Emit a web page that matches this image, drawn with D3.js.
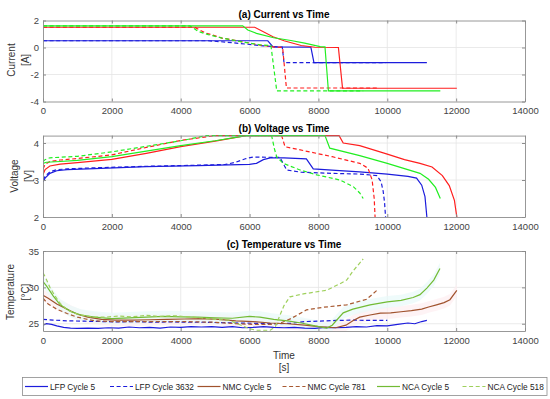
<!DOCTYPE html>
<html>
<head>
<meta charset="utf-8">
<script src="https://cdn.jsdelivr.net/npm/d3@7"></script>
<style>
  body { margin: 0; background: #fff; }
  text { font-family: "Liberation Sans", Arial, sans-serif; }
</style>
</head>
<body>
<div class="chart"></div>
<script>
// x ticks shared by the three panels
var timeTicks = [0, 2000, 4000, 6000, 8000, 10000, 12000, 14000];

// ---- (a) current [A] ----
var lfp5I = [[0,0.5],[6530,0.5],[6680,0.05],[7780,0.03],[7870,-1.12],[11150,-1.12]];
var lfp3632I = [[0,0.5],[4800,0.5],[5300,0.4],[5900,0.25],[6400,0.12],[6800,0.05],[6950,0.03],[7000,-1.12],[9950,-1.12]];
var nmc5I = [[0,1.5],[6150,1.5],[6680,0.8],[7000,0.5],[7500,0.15],[7900,0.02],[8580,0.0],[8700,-3.02],[12020,-3.02]];
var nmc781I = [[0,1.5],[4400,1.5],[4700,1.1],[5200,0.7],[5800,0.42],[6300,0.18],[6700,0.04],[6960,0.0],[7070,-3.0],[9700,-3.0]];
var nca5I = [[0,1.6],[5800,1.6],[5950,1.3],[6200,1.05],[6700,0.72],[7200,0.52],[7600,0.32],[8050,0.06],[8190,0.05],[8290,-3.22],[11540,-3.22]];
var nca518I = [[0,1.6],[4270,1.6],[4500,1.2],[4800,0.95],[5200,0.7],[5700,0.45],[6300,0.2],[6620,0.15],[6790,-3.22],[9300,-3.22]];

// ---- (b) voltage [V] ----
var lfp5V = [[0,2.95],[60,3.05],[200,3.18],[400,3.25],[700,3.28],[1500,3.31],[3000,3.36],[4500,3.39],[6000,3.42],[6200,3.45],[6400,3.55],[6600,3.6],[7000,3.6],[7650,3.57],[7850,3.3],[8500,3.26],[9200,3.22],[10000,3.16],[10600,3.1],[10850,3.05],[11000,2.86],[11095,2.55],[11150,2.0]];
var lfp3632V = [[0,3.0],[60,3.1],[200,3.22],[400,3.28],[700,3.3],[1500,3.33],[3000,3.37],[4500,3.4],[5300,3.42],[5600,3.48],[5900,3.58],[6100,3.62],[6880,3.61],[7080,3.27],[7500,3.21],[8400,3.18],[9200,3.16],[9700,3.12],[9820,2.95],[9880,2.7],[9920,2.4],[9950,2.0]];
var nmc5V = [[0,3.15],[60,3.28],[200,3.38],[500,3.43],[1000,3.47],[2000,3.56],[3000,3.72],[4000,3.9],[5000,4.05],[5900,4.2],[8600,4.2],[8720,4.0],[9200,3.93],[10000,3.7],[10500,3.55],[10950,3.45],[11300,3.35],[11600,3.12],[11800,2.85],[11950,2.45],[12020,2.0]];
var nmc781V = [[0,3.3],[60,3.42],[200,3.5],[500,3.54],[1000,3.58],[2000,3.68],[3000,3.88],[4000,4.07],[5000,4.2],[6930,4.2],[7030,3.9],[8400,3.63],[9200,3.45],[9440,3.32],[9560,3.0],[9620,2.5],[9645,2.0]];
var nca5V = [[0,3.45],[100,3.48],[500,3.5],[1000,3.53],[2000,3.63],[3000,3.78],[4000,3.93],[5000,4.06],[5900,4.2],[8190,4.2],[8330,3.86],[9200,3.66],[10000,3.45],[10950,3.18],[11200,3.02],[11400,2.8],[11540,2.5]];
var nca518V = [[0,3.5],[60,3.55],[200,3.6],[1000,3.64],[2000,3.76],[3000,3.91],[4000,4.06],[4750,4.2],[6640,4.2],[6720,3.85],[6790,3.62],[6980,3.45],[7465,3.27],[7950,3.14],[8626,3.0],[9013,2.82],[9200,2.65],[9300,2.5]];

// ---- (c) temperature [°C] ----
var lfp5T = [[0,24.8],[100,25.0],[250,24.9],[400,24.7],[600,24.5],[800,24.4],[1000,24.35],[1300,24.4],[1600,24.35],[1900,24.45],[2200,24.4],[2500,24.55],[2800,24.45],[3100,24.5],[3400,24.4],[3700,24.55],[4000,24.5],[4300,24.6],[4600,24.55],[4900,24.6],[5200,24.5],[5500,24.6],[5800,24.45],[6100,24.5],[6400,24.6],[6700,24.5],[7000,24.45],[7300,24.5],[7600,24.4],[7900,24.35],[8200,24.5],[8500,24.45],[8800,24.5],[9100,24.6],[9400,24.55],[9700,24.75],[10000,24.7],[10300,24.9],[10600,25.1],[10800,25.0],[11000,25.3],[11150,25.45]];
var lfp3632T = [[0,25.6],[300,25.5],[700,25.4],[1200,25.35],[1700,25.3],[2200,25.25],[2700,25.3],[3200,25.2],[3700,25.25],[4200,25.2],[4700,25.2],[5200,25.15],[5700,25.1],[6200,25.05],[6700,25.0],[7200,25.05],[7600,25.3],[8000,25.35],[8500,25.45],[9000,25.5],[9500,25.45],[10000,25.45]];
var nmc5T = [[0,28.9],[150,28.5],[400,27.7],[700,27.0],[1000,26.3],[1300,25.9],[1700,25.6],[2100,25.5],[2600,25.5],[3100,25.55],[3600,25.6],[4100,25.65],[4600,25.7],[5100,25.6],[5600,25.4],[6100,25.3],[6600,25.1],[7100,25.0],[7600,24.8],[8000,24.6],[8500,24.45],[8800,24.8],[9000,25.4],[9200,25.9],[9500,26.2],[9800,26.45],[10100,26.5],[10400,26.65],[10700,26.8],[11000,27.0],[11200,27.3],[11430,27.6],[11650,27.9],[11820,28.3],[12020,29.6]];
var nmc781T = [[0,28.5],[150,27.7],[400,27.0],[700,26.4],[1000,25.9],[1500,25.4],[2000,25.3],[3000,25.3],[4000,25.3],[5000,25.2],[5600,25.0],[6200,24.9],[6600,24.9],[6900,25.1],[7200,25.7],[7650,26.9],[8140,27.26],[8820,27.6],[9400,28.36],[9700,29.6]];
var nca5T = [[0,30.8],[100,30.2],[300,28.8],[500,27.6],[800,26.7],[1100,26.2],[1500,25.9],[2000,25.7],[2500,25.8],[3000,25.9],[3500,26.0],[4000,25.95],[4500,25.9],[5000,25.8],[5500,25.75],[6000,26.0],[6300,25.9],[6700,25.6],[7100,25.4],[7500,25.1],[7900,24.7],[8240,24.4],[8400,24.8],[8720,26.5],[9000,27.0],[9500,27.6],[10000,28.0],[10400,28.2],[10750,28.6],[10950,29.0],[11150,29.9],[11350,31.0],[11530,32.6]];
var nca518T = [[0,32.0],[80,31.3],[200,30.0],[350,28.8],[500,27.8],[700,26.9],[1000,26.3],[1400,25.95],[1800,25.9],[2200,26.05],[2600,25.95],[3000,26.15],[3400,26.0],[3800,26.1],[4200,25.95],[4600,25.8],[5000,25.6],[5400,25.5],[5700,24.9],[6000,24.3],[6200,24.1],[6600,24.1],[6750,24.6],[6850,25.8],[7000,27.5],[7170,28.7],[7560,29.1],[8240,29.6],[8626,30.5],[8820,31.0],[9013,32.3],[9300,33.9]];

var seriesNames = ["LFP Cycle 5", "LFP Cycle 3632", "NMC Cycle 5", "NMC Cycle 781", "NCA Cycle 5", "NCA Cycle 518"];

var W = 550, H = 399;
var left = 43, right = 525;
var dash = "4,2.6";

var colAB = ["#1c1cdc", "#1c1cdc", "#ff1e1e", "#ff1e1e", "#22ee22", "#22ee22"];
var colC = ["#1c1cdc", "#1c1cdc", "#a0522d", "#a85a32", "#72bb34", "#9fd05c"];
var bandC = [null, null, "#fdeef1", null, "#e8fafa", null];
var dashes = [null, dash, null, dash, null, dash];

var svg = d3.select(".chart")
            .append("svg")
            .attr("width", W)
            .attr("height", H);
svg.append("rect").attr("width", W).attr("height", H).attr("fill", "#fff");

var xScale = d3.scaleLinear()
               .domain([0, 14000])
               .range([left, right]);

var panels = [
  { id: "a", title: "(a) Current vs Time", label: ["Current", "[A]"], top: 20.5, bottom: 101.5,
    domain: [-4, 2], ticks: [-4, -2, 0, 2], data: [lfp5I, lfp3632I, nmc5I, nmc781I, nca5I, nca518I],
    colors: colAB, bands: [], lx: [11, 25.5], ly: 60, ty: 17.5 },
  { id: "b", title: "(b) Voltage vs Time", label: ["Voltage", "[V]"], top: 135.6, bottom: 217,
    domain: [2, 4.2], ticks: [2, 3, 4], data: [lfp5V, lfp3632V, nmc5V, nmc781V, nca5V, nca518V],
    colors: colAB, bands: [], lx: [14, 28.5], ly: 176, ty: 131.5 },
  { id: "c", title: "(c) Temperature vs Time", label: ["Temperature", "[°C]"], top: 251, bottom: 331,
    domain: [24, 35], ticks: [25, 30, 35], data: [lfp5T, lfp3632T, nmc5T, nmc781T, nca5T, nca518T],
    colors: colC, bands: bandC, lx: [10.5, 25], ly: 292, ty: 248 }
];

panels.forEach(function(p){
  var yScale = d3.scaleLinear()
                 .domain(p.domain)
                 .range([p.bottom, p.top]);
  var g = svg.append("g");

  // grid
  g.selectAll(".vg")
   .data(timeTicks.slice(1, -1))
   .enter()
   .append("line")
   .attr("x1", function(d){ return xScale(d); })
   .attr("x2", function(d){ return xScale(d); })
   .attr("y1", p.top).attr("y2", p.bottom)
   .attr("stroke", "#e4e4e4").attr("stroke-width", 0.8);
  g.selectAll(".hg")
   .data(p.ticks.filter(function(t){ return t > p.domain[0] && t < p.domain[1]; }))
   .enter()
   .append("line")
   .attr("x1", left).attr("x2", right)
   .attr("y1", function(d){ return yScale(d); })
   .attr("y2", function(d){ return yScale(d); })
   .attr("stroke", "#e4e4e4").attr("stroke-width", 0.8);

  svg.append("clipPath").attr("id", "clip" + p.id)
     .append("rect").attr("x", left).attr("y", p.top - 1)
     .attr("width", right - left).attr("height", p.bottom - p.top + 1);
  var lg = g.append("g").attr("clip-path", "url(#clip" + p.id + ")");

  // faint shaded spread around some temperature curves
  var area = d3.area()
               .x(function(d){ return xScale(d[0]); })
               .y0(function(d){ return yScale(d[1] - 0.8); })
               .y1(function(d){ return yScale(d[1] + 0.8); });
  p.bands.forEach(function(b, i){
    if (!b) return;
    lg.append("path")
      .datum(p.data[i])
      .attr("d", area)
      .attr("fill", b)
      .attr("opacity", 0.7);
  });

  // lines
  var line = d3.line()
               .x(function(d){ return xScale(d[0]); })
               .y(function(d){ return yScale(d[1]); });
  p.data.forEach(function(s, i){
    lg.append("path")
      .datum(s)
      .attr("d", line)
      .attr("fill", "none")
      .attr("stroke", p.colors[i])
      .attr("stroke-width", 1.2)
      .attr("stroke-dasharray", dashes[i]);
  });

  // axes (MATLAB style box, ticks inside)
  var plain = function(d){ return String(d); };
  var xAxis = d3.axisBottom(xScale).tickValues(timeTicks).tickFormat(plain).tickSizeInner(-3).tickSizeOuter(0).tickPadding(6);
  var xTop = d3.axisTop(xScale).tickValues(timeTicks).tickSizeInner(-3).tickSizeOuter(0).tickFormat("");
  var yAxis = d3.axisLeft(yScale).tickValues(p.ticks).tickFormat(plain).tickSizeInner(-3).tickSizeOuter(0).tickPadding(4);
  var yRight = d3.axisRight(yScale).tickValues(p.ticks).tickSizeInner(-3).tickSizeOuter(0).tickFormat("");
  var ax = [
    g.append("g").attr("transform", "translate(0," + p.bottom + ")").call(xAxis),
    g.append("g").attr("transform", "translate(0," + p.top + ")").call(xTop),
    g.append("g").attr("transform", "translate(" + left + ",0)").call(yAxis),
    g.append("g").attr("transform", "translate(" + right + ",0)").call(yRight)
  ];
  ax.forEach(function(a){
    a.select(".domain").attr("stroke", "#8c8c8c").attr("stroke-width", 0.9);
    a.selectAll(".tick line").attr("stroke", "#8c8c8c");
    a.selectAll(".tick text").attr("fill", "#444").style("font-size", "9.5px")
     .style("font-family", "'Liberation Sans', Arial, sans-serif");
  });

  // title
  g.append("text")
   .attr("x", (left + right) / 2).attr("y", p.ty)
   .attr("text-anchor", "middle")
   .style("font-size", "10px").style("font-weight", "bold")
   .attr("fill", "#000")
   .text(p.title);

  // y label, two lines
  p.label.forEach(function(t, k){
    g.append("text")
     .attr("transform", "translate(" + p.lx[k] + "," + p.ly + ") rotate(-90)")
     .attr("text-anchor", "middle")
     .attr("dy", "0.35em")
     .style("font-size", "10px")
     .attr("fill", "#333")
     .text(t);
  });
});

// x label
svg.append("text").attr("x", 284).attr("y", 358.5).attr("text-anchor", "middle")
   .style("font-size", "10px").attr("fill", "#333").text("Time");
svg.append("text").attr("x", 284).attr("y", 370.5).attr("text-anchor", "middle")
   .style("font-size", "10px").attr("fill", "#333").text("[s]");

// legend
var legX = [50, 135, 222.5, 307.5, 402, 487.5];
var leg = svg.append("g");
leg.append("rect")
   .attr("x", 22.5).attr("y", 377.5).attr("width", 524.5).attr("height", 18)
   .attr("fill", "#fff").attr("stroke", "#8c8c8c").attr("stroke-width", 0.8);
leg.selectAll("line")
   .data(seriesNames)
   .enter()
   .append("line")
   .attr("x1", function(d, i){ return legX[i] - 25; })
   .attr("x2", function(d, i){ return legX[i] - 2; })
   .attr("y1", 386.5).attr("y2", 386.5)
   .attr("stroke", function(d, i){ return colC[i]; })
   .attr("stroke-width", 1.2)
   .attr("stroke-dasharray", function(d, i){ return dashes[i]; });
leg.selectAll("text")
   .data(seriesNames)
   .enter()
   .append("text")
   .attr("x", function(d, i){ return legX[i]; })
   .attr("y", 389.5)
   .style("font-size", "8.3px")
   .attr("fill", "#222")
   .text(function(d){ return d; });
</script>
</body>
</html>
